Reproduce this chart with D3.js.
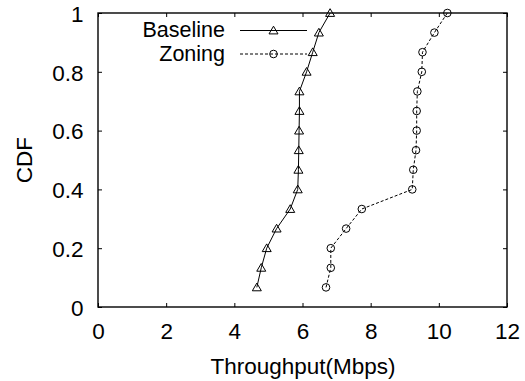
<!DOCTYPE html>
<html>
<head>
<meta charset="utf-8">
<script src="https://cdn.jsdelivr.net/npm/d3@7"></script>
<style>
  html, body { margin: 0; padding: 0; background: #fff; }
  svg { display: block; }
  text { font-family: "Liberation Sans", Arial, Helvetica, sans-serif; fill: #000; }
</style>
</head>
<body>
<svg id="chart" width="525" height="381"></svg>
<script>
// CDF levels (15 samples each)
const cdfLevels = [0.0667, 0.1333, 0.2, 0.2667, 0.3333, 0.4, 0.4667, 0.5333, 0.6, 0.6667, 0.7333, 0.8, 0.8667, 0.9333, 1.0];
// Throughput samples in Mbps, sorted
const baselineThroughput = [4.66, 4.79, 4.95, 5.24, 5.64, 5.86, 5.88, 5.89, 5.90, 5.91, 5.91, 6.12, 6.30, 6.48, 6.81];
const zoningThroughput   = [6.69, 6.83, 6.83, 7.28, 7.74, 9.22, 9.25, 9.33, 9.35, 9.35, 9.37, 9.50, 9.52, 9.87, 10.25];
const xTicks = [0, 2, 4, 6, 8, 10, 12];
const yTicks = [0, 0.2, 0.4, 0.6, 0.8, 1];
const seriesNames = ["Baseline", "Zoning"];

const svg = d3.select("#chart");
const plotLeft = 98, plotRight = 507, plotTop = 13, plotBottom = 307;

const x = d3.scaleLinear().domain([0, 12]).range([plotLeft, plotRight]);
const y = d3.scaleLinear().domain([0, 1]).range([plotBottom, plotTop]);

const fontSize = 22.5;
const legendFontSize = 21.5;

// Ticks on all four sides, pointing inward
const tickLen = 4;
const axisBottom = d3.axisBottom(x).tickValues(xTicks).tickSizeInner(-tickLen).tickSizeOuter(0).tickPadding(16).tickFormat(d3.format("d"));
const axisTop = d3.axisTop(x).tickValues(xTicks).tickSizeInner(-tickLen).tickSizeOuter(0).tickFormat("");
const axisLeft = d3.axisLeft(y).tickValues(yTicks).tickSizeInner(-tickLen).tickSizeOuter(0).tickPadding(14.5).tickFormat(d => d === 0 || d === 1 ? d3.format("d")(d) : d3.format(".1f")(d));
const axisRight = d3.axisRight(y).tickValues(yTicks).tickSizeInner(-tickLen).tickSizeOuter(0).tickFormat("");

function styleAxis(g) {
  g.select(".domain").remove();
  g.selectAll(".tick line").attr("stroke", "#000").attr("stroke-width", 1);
  g.selectAll(".tick text").attr("font-size", fontSize).attr("font-family", "Liberation Sans, Arial, sans-serif").attr("fill", "#000");
}

svg.append("g").attr("transform", `translate(0,${plotBottom})`).call(axisBottom).call(styleAxis);
svg.append("g").attr("transform", `translate(0,${plotTop})`).call(axisTop).call(styleAxis);
svg.append("g").attr("transform", `translate(${plotLeft},0)`).call(axisLeft).call(styleAxis)
  .selectAll(".tick text").attr("dy", "0.37em");
svg.append("g").attr("transform", `translate(${plotRight},0)`).call(axisRight).call(styleAxis);

// Frame
svg.append("rect")
  .attr("x", plotLeft).attr("y", plotTop)
  .attr("width", plotRight - plotLeft).attr("height", plotBottom - plotTop)
  .attr("fill", "none").attr("stroke", "#000").attr("stroke-width", 1.4);

// Axis titles
svg.append("text")
  .attr("x", 303).attr("y", 374)
  .attr("text-anchor", "middle").attr("font-size", fontSize)
  .text("Throughput(Mbps)");
svg.append("text")
  .attr("transform", `translate(32,160) rotate(-90)`)
  .attr("text-anchor", "middle").attr("font-size", fontSize)
  .text("CDF");

// Markers
function drawTriangle(g, cx, cy) {
  g.append("path")
    .attr("d", "M0,-4.3L4.5,3.4L-4.5,3.4Z")
    .attr("transform", `translate(${cx},${cy})`)
    .attr("fill", "none").attr("stroke", "#000").attr("stroke-width", 1);
}
function drawCircle(g, cx, cy) {
  g.append("circle")
    .attr("cx", cx).attr("cy", cy).attr("r", 3.8)
    .attr("fill", "none").attr("stroke", "#000").attr("stroke-width", 1);
}

const line = d3.line().x(d => x(d[0])).y(d => y(d[1]));

const baseData = baselineThroughput.map((v, i) => [v, cdfLevels[i]]);
const zoneData = zoningThroughput.map((v, i) => [v, cdfLevels[i]]);

const plot = svg.append("g");

plot.append("path").datum(baseData).attr("d", line)
  .attr("fill", "none").attr("stroke", "#000").attr("stroke-width", 1);
plot.append("path").datum(zoneData).attr("d", line)
  .attr("fill", "none").attr("stroke", "#000").attr("stroke-width", 1).attr("stroke-dasharray", "3,2");

baseData.forEach(d => drawTriangle(plot, x(d[0]), y(d[1])));
zoneData.forEach(d => drawCircle(plot, x(d[0]), y(d[1])));

// Legend
const legend = svg.append("g");
const legX1 = 240, legX2 = 307, legTextX = 225;
const legRows = [
  { name: seriesNames[0], cy: 30.5, base: 36.5, dash: null, marker: drawTriangle },
  { name: seriesNames[1], cy: 54, base: 61, dash: "3,2", marker: drawCircle }
];
legRows.forEach(r => {
  legend.append("text")
    .attr("x", legTextX).attr("y", r.base)
    .attr("text-anchor", "end").attr("font-size", legendFontSize)
    .text(r.name);
  const ln = legend.append("line")
    .attr("x1", legX1).attr("x2", legX2).attr("y1", r.cy).attr("y2", r.cy)
    .attr("stroke", "#000").attr("stroke-width", 1);
  if (r.dash) ln.attr("stroke-dasharray", r.dash);
  r.marker(legend, (legX1 + legX2) / 2, r.cy);
});
</script>
</body>
</html>
